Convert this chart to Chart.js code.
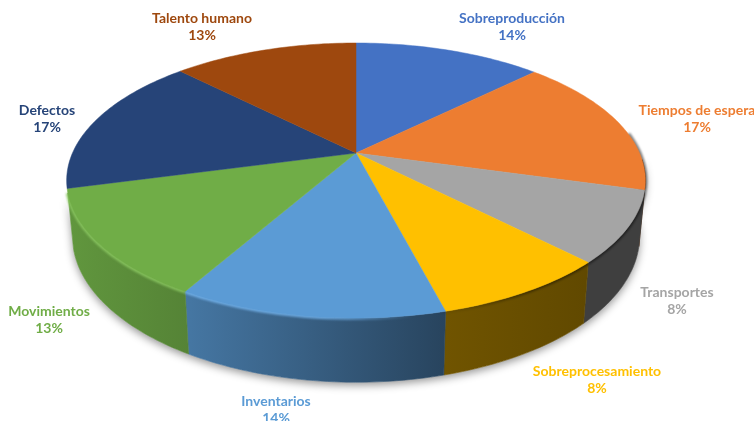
<!DOCTYPE html>
<html>
<head>
<meta charset="utf-8">
<style>
html,body{margin:0;padding:0;background:#fff;overflow:hidden}
canvas{display:block;filter:blur(0.35px)}
</style>
<script src="https://cdn.jsdelivr.net/npm/chart.js@4/dist/chart.umd.js"></script>
</head>
<body>
<canvas id="c" width="754" height="421"></canvas>
<script>
const categories = ['Sobreproducción','Tiempos de espera','Transportes','Sobreprocesamiento','Inventarios','Movimientos','Defectos','Talento humano'];
const sliceValues = [12.7,16.6,8.3,8.3,12.4,12.6,16.6,12.5];
const percentLabels = ['14%','17%','8%','8%','14%','13%','17%','13%'];
const sliceColors = ['#4472C4','#ED7D31','#A5A5A5','#FFC000','#5B9BD5','#70AD47','#264478','#9E480E'];
const labelColors = ['#4472C4','#ED7D31','#A5A5A5','#FFC000','#5B9BD5','#70AD47','#264478','#9E480E'];
const labelAnchors = [[512,18],[697,110],[677,292],[597,371],[276,401],[49,311],[47,110],[202,18]];

// view geometry of the tilted disc
const CX=356, CY=153, A=283.5, B=132, K=0.2, DEPTH=54, SHRINK=0.98;
const shadeX=[65,190,445,585,646], shadeV=[.87,.76,.44,.38,.38];

function topPt(t){const X=Math.cos(t),Y=Math.sin(t),w=1-K*Y;return [CX+A*X/w,CY+B*Y/w];}
function botPt(t){const X=Math.cos(t),Y=Math.sin(t),w=1-K*Y;return [CX+SHRINK*A*X/w,CY+SHRINK*B*Y/w+DEPTH/w];}
function rgb(h){return [1,3,5].map(i=>parseInt(h.substr(i,2),16));}
function css(c,f,a){return `rgba(${c.map(v=>Math.round(v*f)).join(',')},${a===undefined?1:a})`;}
function arcPts(fn,a,b){const n=Math.max(2,Math.ceil(Math.abs(b-a)/0.02));const p=[];for(let i=0;i<=n;i++)p.push(fn(a+(b-a)*i/n));return p;}
function trace(ctx,pts,cont){pts.forEach((p,i)=>{(i||cont)?ctx.lineTo(p[0],p[1]):ctx.moveTo(p[0],p[1]);});}
// only the near side of the rim is visible
const WALL_LO=0.05, WALL_HI=Math.PI-0.29, RIM_LO=-0.15;
function visRange(s,e,lo,hi){
  const TAU=Math.PI*2;
  while(s<-Math.PI/2-1e-6){s+=TAU;e+=TAU;}
  const a=Math.max(s,lo), b=Math.min(e,hi);
  return a<b?[a,b]:null;
}

class Arc3D extends Chart.ArcElement{
  static id='arc3d';
  drawWall(ctx,color){
    const r=visRange(this.startAngle,this.endAngle,WALL_LO,WALL_HI); if(!r)return;
    const g=ctx.createLinearGradient(shadeX[0],0,shadeX[4],0);
    shadeX.forEach((x,i)=>g.addColorStop((x-shadeX[0])/(shadeX[4]-shadeX[0]),css(rgb(color),shadeV[i])));
    ctx.beginPath();
    trace(ctx,arcPts(topPt,r[0],r[1]));
    trace(ctx,arcPts(botPt,r[1],r[0]),true);
    ctx.closePath();
    ctx.fillStyle=g;ctx.strokeStyle=g;ctx.lineWidth=.6;
    ctx.fill();ctx.stroke();
  }
  drawRim(ctx,color){
    const r=visRange(this.startAngle,this.endAngle,RIM_LO,WALL_HI); if(!r)return;
    const c=rgb(color);
    const light=c.map(v=>Math.min(255,v+26));
    const g=ctx.createLinearGradient(65,0,646,0);
    g.addColorStop(0,css(light,1,.9));
    g.addColorStop(.45,css(light,1,.8));
    g.addColorStop(.6,css(light,1,0));
    g.addColorStop(.64,'rgba(0,0,0,0)');
    g.addColorStop(.8,'rgba(0,0,0,.4)');
    g.addColorStop(1,'rgba(0,0,0,.5)');
    ctx.save();
    ctx.filter='blur(1px)';
    ctx.beginPath();
    trace(ctx,arcPts(topPt,r[0],r[1]));
    ctx.strokeStyle=g;ctx.lineWidth=4;ctx.stroke();
    ctx.restore();
  }
  drawTop(ctx,color){
    ctx.beginPath();
    ctx.moveTo(CX,CY);
    trace(ctx,arcPts(topPt,this.startAngle,this.endAngle),true);
    ctx.closePath();
    ctx.fillStyle=color;ctx.strokeStyle=color;ctx.lineWidth=.5;
    ctx.fill();ctx.stroke();
  }
}
class Pie3D extends Chart.DoughnutController{
  static id='pie3d';
  static defaults={...Chart.DoughnutController.defaults,dataElementType:'arc3d'};
  static overrides=Chart.DoughnutController.overrides;
  draw(){
    const ctx=this.chart.ctx, arcs=this._cachedMeta.data;
    // soft shadow under the whole disc
    ctx.save();
    ctx.shadowColor='rgba(0,0,0,.42)';ctx.shadowBlur=9;ctx.shadowOffsetY=3;
    ctx.fillStyle='#fff';
    ctx.beginPath();
    trace(ctx,arcPts(topPt,WALL_HI,WALL_LO));
    trace(ctx,arcPts(botPt,WALL_LO,WALL_HI),true);
    ctx.closePath();ctx.fill();
    ctx.restore();
    arcs.forEach((a,i)=>a.drawWall(ctx,sliceColors[i]));
    arcs.forEach((a,i)=>a.drawRim(ctx,sliceColors[i]));
    arcs.forEach((a,i)=>a.drawTop(ctx,sliceColors[i]));
  }
}
Chart.register(Arc3D,Pie3D);

const labelPlugin={id:'sliceLabels',afterDraw(chart){
  const ctx=chart.ctx;
  ctx.save();
  ctx.font='bold 14px Lato, "Open Sans", sans-serif';
  ctx.textAlign='center';ctx.textBaseline='middle';
  categories.forEach((name,i)=>{
    ctx.fillStyle=labelColors[i];
    ctx.fillText(name,labelAnchors[i][0],labelAnchors[i][1]);
    ctx.fillText(percentLabels[i],labelAnchors[i][0],labelAnchors[i][1]+17.5);
  });
  ctx.restore();
}};

new Chart(document.getElementById('c'),{
  type:'pie3d',
  data:{labels:categories,datasets:[{data:sliceValues,backgroundColor:sliceColors,borderWidth:0}]},
  options:{responsive:false,animation:false,plugins:{legend:{display:false},tooltip:{enabled:false},title:{display:false}}},
  plugins:[labelPlugin]
});
</script>
</body>
</html>
